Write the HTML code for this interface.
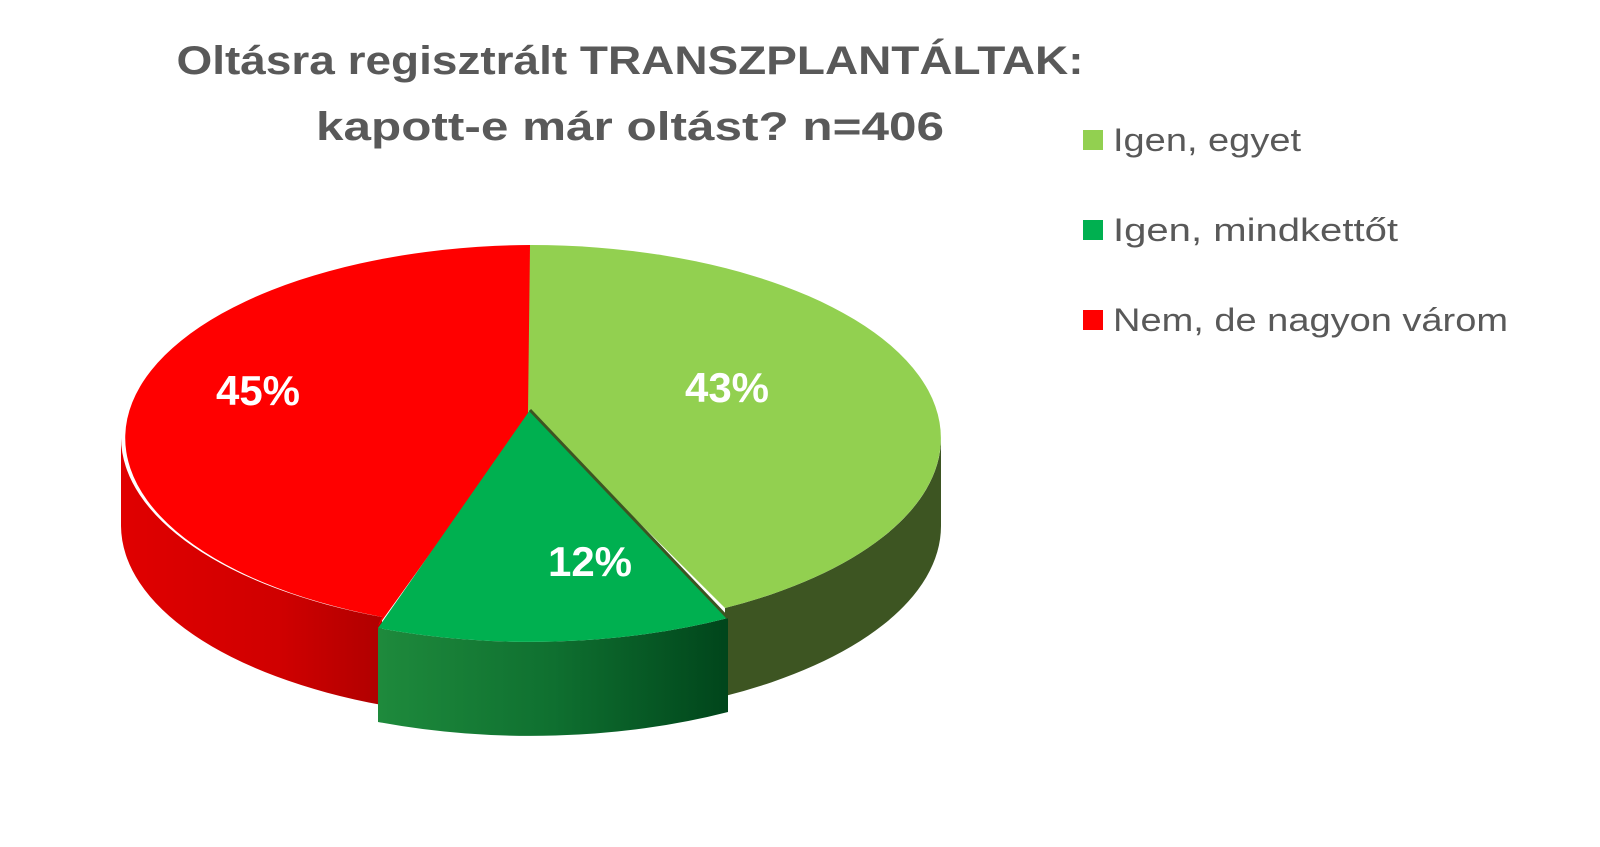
<!DOCTYPE html>
<html><head><meta charset="utf-8"><style>
html,body{margin:0;padding:0;background:#fff;}
svg{display:block;}
</style></head><body>
<svg width="1600" height="847" viewBox="0 0 1600 847" xmlns="http://www.w3.org/2000/svg" font-family="'Liberation Sans', sans-serif">
<defs>
<linearGradient id="rs" x1="0" x2="1" y1="0" y2="0">
<stop offset="0" stop-color="#e00000"/><stop offset="0.6" stop-color="#d00000"/><stop offset="1" stop-color="#b00000"/>
</linearGradient>
<linearGradient id="gs" x1="0" x2="1" y1="0" y2="0">
<stop offset="0" stop-color="#1e8a3c"/><stop offset="0.5" stop-color="#0f7030"/><stop offset="1" stop-color="#00451b"/>
</linearGradient>
</defs>
<text x="630" y="74" text-anchor="middle" font-size="40" font-weight="bold" fill="#595959" textLength="907" lengthAdjust="spacingAndGlyphs">Oltásra regisztrált TRANSZPLANTÁLTAK:</text>
<text x="630" y="140" text-anchor="middle" font-size="40" font-weight="bold" fill="#595959" textLength="628" lengthAdjust="spacingAndGlyphs">kapott-e már oltást? n=406</text>

<!-- sides -->
<path d="M121,438 A410 193 0 0 0 382,617 L382,705 A410 193 0 0 1 121,526 Z" fill="url(#rs)"/>
<path d="M725,608 A410 193 0 0 0 941,438 L941,526 A410 193 0 0 1 725,696 Z" fill="#3d5522"/>
<!-- tops -->
<path d="M532,412 L530,245 A410 193 0 0 0 382,617 L378,626 Z" fill="#ff0000"/>
<path d="M528,412 L530,245 A410 193 0 0 1 725,608 Z" fill="#92d050"/>
<!-- exploded green -->
<path d="M378,628 A410 193 0 0 0 728,618 L728,712 A410 193 0 0 1 378,722 Z" fill="url(#gs)"/>
<path d="M530,410 L378,628 A410 193 0 0 0 728,618 Z" fill="#00b050"/>
<path d="M530,410 L728,618" stroke="#3d5522" stroke-width="3"/>

<g fill="#fff" font-weight="bold" font-size="42" text-anchor="middle">
<text x="258" y="405">45%</text>
<text x="727" y="402">43%</text>
<text x="590" y="576">12%</text>
</g>

<g font-size="32" fill="#595959">
<rect x="1083" y="130" width="20" height="20" fill="#92d050"/>
<text x="1113" y="151" textLength="188" lengthAdjust="spacingAndGlyphs">Igen, egyet</text>
<rect x="1083" y="220" width="20" height="20" fill="#00b050"/>
<text x="1113" y="241" textLength="285" lengthAdjust="spacingAndGlyphs">Igen, mindkettőt</text>
<rect x="1083" y="310" width="20" height="20" fill="#ff0000"/>
<text x="1113" y="331" textLength="395" lengthAdjust="spacingAndGlyphs">Nem, de nagyon várom</text>
</g>
</svg>
</body></html>
